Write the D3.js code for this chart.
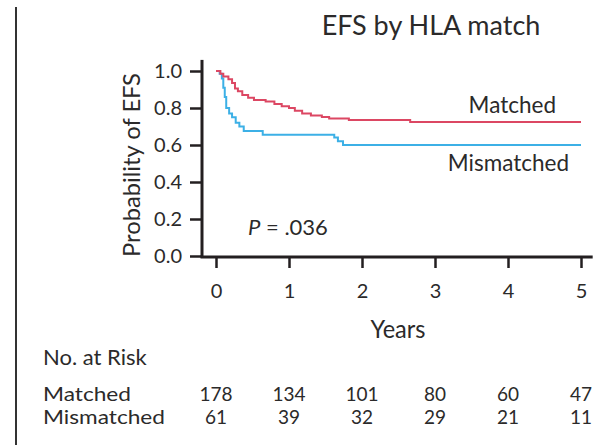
<!DOCTYPE html>
<html>
  <head>
    <meta charset="utf-8">
    <title>EFS by HLA match</title>
    <script src="https://d3js.org/d3.v7.min.js"></script>
    <style>
      body { margin: 0; background: #fff; }
      text { font-family: Lato, "Open Sans", sans-serif; fill: #2b2a2a; }
    </style>
  </head>
  <body>
    <svg id="chart" width="616" height="445"></svg>
    <script>
      // データ
      var matchedT = [0, 0.06, 0.1, 0.17, 0.22, 0.26, 0.3, 0.36, 0.44, 0.52, 0.68, 0.8, 0.9, 1.0, 1.08, 1.18, 1.3, 1.45, 1.55, 1.82, 2.66];
      var matchedV = [1, 0.985, 0.97, 0.955, 0.935, 0.905, 0.89, 0.87, 0.855, 0.843, 0.835, 0.822, 0.81, 0.8, 0.785, 0.77, 0.76, 0.752, 0.743, 0.735, 0.724];
      var mismatchedT = [0, 0.05, 0.08, 0.1, 0.12, 0.14, 0.18, 0.22, 0.27, 0.32, 0.38, 0.64, 1.62, 1.67, 1.74];
      var mismatchedV = [1, 0.985, 0.96, 0.91, 0.86, 0.80, 0.77, 0.75, 0.72, 0.70, 0.676, 0.655, 0.64, 0.62, 0.60];
      var years = [0, 1, 2, 3, 4, 5];
      var yTicks = [0, 0.2, 0.4, 0.6, 0.8, 1.0];
      var riskGroups = ["Matched", "Mismatched"];
      var riskMatched = [178, 134, 101, 80, 60, 47];
      var riskMismatched = [61, 39, 32, 29, 21, 11];

      var svg = d3.select("#chart");

      // スケール
      var x = d3.scaleLinear().domain([0, 5]).range([216, 581]);
      var y = d3.scaleLinear().domain([0, 1]).range([256, 71]);

      // 左の枠線
      svg.append("line")
        .attr("x1", 16).attr("x2", 16)
        .attr("y1", 7).attr("y2", 445)
        .attr("stroke", "#333").attr("stroke-width", 2);

      // タイトル
      svg.append("text")
        .attr("x", 431).attr("y", 35)
        .attr("text-anchor", "middle")
        .style("font-size", "27px")
        .text("EFS by HLA match");

      // Y軸
      var yAxis = d3.axisLeft(y)
        .tickValues(yTicks)
        .tickFormat(d3.format(".1f"))
        .tickSize(12)
        .tickPadding(8);
      var gy = svg.append("g")
        .attr("transform", "translate(202,0)")
        .call(yAxis);
      gy.select(".domain").remove();
      gy.append("line")
        .attr("x1", 0).attr("x2", 0)
        .attr("y1", y(1.06)).attr("y2", y(0) + 1.5)
        .attr("stroke", "#231f20").attr("stroke-width", 3);

      // X軸
      var xAxis = d3.axisBottom(x)
        .tickValues(years)
        .tickFormat(d3.format("d"))
        .tickSize(11)
        .tickPadding(16);
      var gx = svg.append("g")
        .attr("transform", "translate(0,257)")
        .call(xAxis);
      gx.select(".domain").remove();
      gx.append("line")
        .attr("x1", 200.5).attr("x2", x(5.16))
        .attr("y1", 0).attr("y2", 0)
        .attr("stroke", "#231f20").attr("stroke-width", 3);

      svg.selectAll(".tick line")
        .attr("stroke", "#231f20").attr("stroke-width", 2.5);
      svg.selectAll(".tick text")
        .style("font-family", "Lato, sans-serif")
        .style("font-size", "20px")
        .attr("fill", "#2b2a2a");

      // 軸ラベル
      svg.append("text")
        .attr("transform", "translate(140,165) rotate(-90)")
        .attr("text-anchor", "middle")
        .attr("textLength", 184)
        .attr("lengthAdjust", "spacingAndGlyphs")
        .style("font-size", "23px")
        .text("Probability of EFS");

      svg.append("text")
        .attr("x", 398).attr("y", 338)
        .attr("text-anchor", "middle")
        .attr("textLength", 55)
        .attr("lengthAdjust", "spacingAndGlyphs")
        .style("font-size", "25px")
        .text("Years");

      // 生存曲線（ステップ）
      var line = d3.line()
        .x(function(d) { return x(d[0]); })
        .y(function(d) { return y(d[1]); })
        .curve(d3.curveStepAfter);

      var matched = d3.zip(matchedT, matchedV);
      matched.push([5, matchedV[matchedV.length - 1]]);
      var mismatched = d3.zip(mismatchedT, mismatchedV);
      mismatched.push([5, mismatchedV[mismatchedV.length - 1]]);

      svg.append("path")
        .datum(mismatched)
        .attr("d", line)
        .attr("fill", "none")
        .attr("stroke", "#3cb0e6")
        .attr("stroke-width", 2);

      svg.append("path")
        .datum(matched)
        .attr("d", line)
        .attr("fill", "none")
        .attr("stroke", "#dc4763")
        .attr("stroke-width", 2);

      // 曲線ラベル
      svg.append("text")
        .attr("x", 556).attr("y", 113)
        .attr("text-anchor", "end")
        .style("font-size", "22.5px")
        .text("Matched");
      svg.append("text")
        .attr("x", 569).attr("y", 171)
        .attr("text-anchor", "end")
        .style("font-size", "22.5px")
        .text("Mismatched");

      // P値
      var p = svg.append("text")
        .attr("x", 248).attr("y", 235)
        .style("font-size", "22px");
      p.append("tspan").style("font-style", "italic").text("P");
      p.append("tspan").text(" = .036");

      // No. at Risk
      svg.append("text")
        .attr("x", 43).attr("y", 365)
        .style("font-size", "22px")
        .text("No. at Risk");

      var riskRows = [riskMatched, riskMismatched];
      var rowY = [401, 424];
      riskGroups.forEach(function(name, i) {
        svg.append("text")
          .attr("x", 43).attr("y", rowY[i])
          .attr("textLength", i === 0 ? 88 : 122)
          .attr("lengthAdjust", "spacingAndGlyphs")
          .style("font-size", "19px")
          .text(name);
        svg.selectAll(".risk" + i)
          .data(riskRows[i])
          .enter()
          .append("text")
          .attr("class", "risk" + i)
          .attr("x", function(d, j) { return x(years[j]); })
          .attr("y", rowY[i])
          .attr("text-anchor", "middle")
          .style("font-size", "19px")
          .text(function(d) { return d; });
      });
    </script>
  </body>
</html>
